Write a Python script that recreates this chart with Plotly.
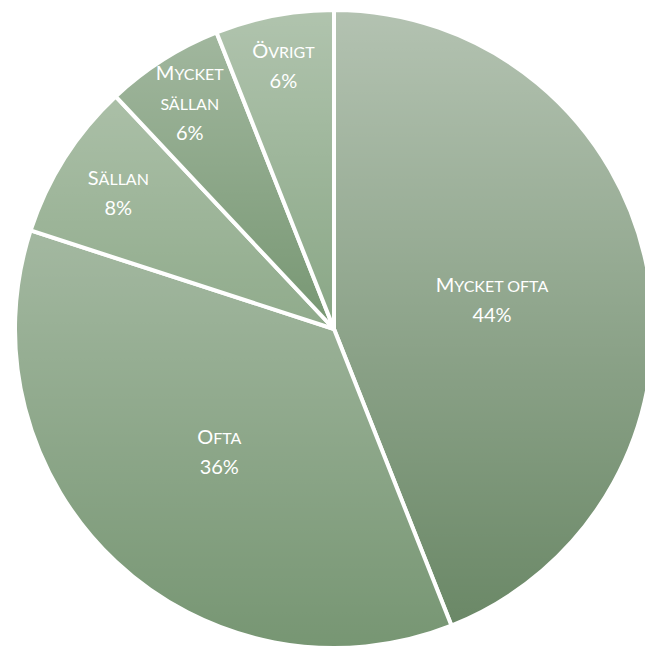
import base64
import plotly.graph_objects as go

categories = ["Mycket ofta", "Ofta", "Sällan", "Mycket sällan", "Övrigt"]
values = [44, 36, 8, 6, 6]

SC = "<span style='font-size:16px'>{}</span>"
BIG = "<span style='font-size:20px'>{}</span>"
display_labels = [
    BIG.format("M") + SC.format("YCKET OFTA"),
    BIG.format("O") + SC.format("FTA"),
    BIG.format("S") + SC.format("ÄLLAN"),
    BIG.format("M") + SC.format("YCKET") + "<br>" + SC.format("SÄLLAN"),
    BIG.format("Ö") + SC.format("VRIGT"),
]
# base colours (a white vertical gradient is laid over the pie to mimic the shading)
colors = ["#688664", "#779673", "#6b8f65", "#4a7444", "#62895d"]

# the page body adds an 8px margin around the figure
W, H = 645, 641
cx, cy, r = 326, 321, 319

fig = go.Figure(go.Pie(
    labels=categories,
    values=values,
    text=display_labels,
    texttemplate="%{text}<br>" + BIG.format("%{percent:.0%}"),
    textposition="inside",
    insidetextorientation="horizontal",
    sort=False,
    direction="clockwise",
    rotation=0,
    marker=dict(colors=colors, line=dict(color="white", width=4)),
    textfont=dict(family="Lato", size=23, color="white"),
    domain=dict(x=[(cx - r) / W, min(1, (cx + r) / W)],
                y=[(H - cy - r) / H, min(1, (H - cy + r) / H)]),
    showlegend=False,
    hoverinfo="label+percent",
))

svg = ("<svg xmlns='http://www.w3.org/2000/svg' width='10' height='100' preserveAspectRatio='none'>"
       "<defs><linearGradient id='g' x1='0' y1='0' x2='0' y2='1'>"
       "<stop offset='0' stop-color='#ffffff' stop-opacity='0.5'/>"
       "<stop offset='1' stop-color='#ffffff' stop-opacity='0'/>"
       "</linearGradient></defs><rect width='10' height='100' fill='url(#g)'/></svg>")
src = "data:image/svg+xml;base64," + base64.b64encode(svg.encode()).decode()

top = cy - r
fig.add_layout_image(
    source=src, xref="paper", yref="paper",
    x=0, y=1 - top / H, sizex=1, sizey=(2 * r) / H,
    xanchor="left", yanchor="top", sizing="stretch", layer="above", opacity=1,
)

fig.update_layout(
    width=W, height=H,
    margin=dict(l=0, r=0, t=0, b=0),
    paper_bgcolor="white",
    plot_bgcolor="white",
    uniformtext=dict(minsize=23, mode="show"),
)
fig.write_html("out.html")
